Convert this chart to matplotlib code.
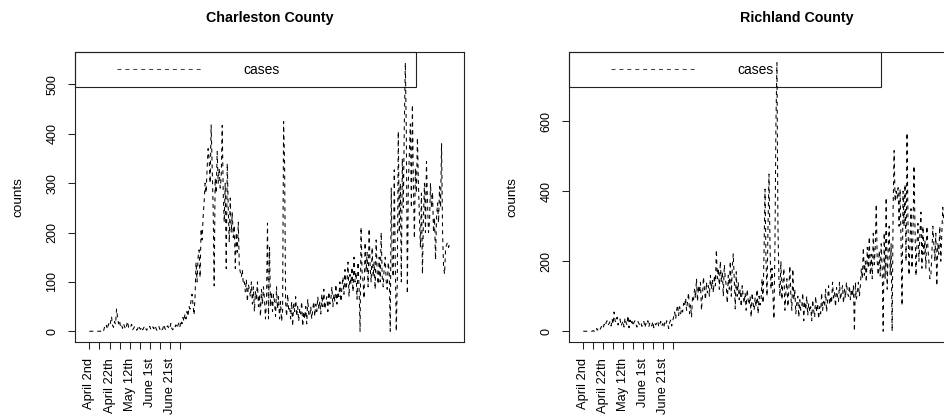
import matplotlib
matplotlib.use("Agg")
import matplotlib.pyplot as plt
from matplotlib.patches import Rectangle

plt.rcParams['font.family'] = ['Liberation Sans', 'DejaVu Sans']

# daily case counts (index 0 = April 2nd)
charleston = [
    0, 0, 0, 0, 0, 0, 0, 0, 0, 0,
    0, 0, 1, 3, 0, 8, 5, 12, 4, 15,
    10, 18, 30, 12, 8, 20, 14, 45, 28, 15,
    22, 8, 12, 6, 15, 9, 4, 12, 20, 7,
    5, 9, 14, 3, 6, 10, 8, 2, 5, 12,
    6, 4, 9, 3, 7, 11, 5, 2, 8, 6,
    10, 4, 3, 9, 5, 12, 7, 2, 6, 10,
    4, 8, 3, 5, 14, 6, 2, 9, 11, 4,
    7, 16, 5, 3, 10, 8, 13, 6, 12, 18,
    10, 22, 15, 28, 20, 35, 25, 40, 30, 50,
    45, 62, 75, 55, 33, 70, 140, 100, 150, 165,
    109, 208, 185, 230, 260, 300, 280, 330, 370, 350,
    300, 418, 330, 250, 92, 310, 280, 364, 300, 330,
    290, 310, 417, 280, 221, 300, 127, 340, 250, 180,
    270, 200, 240, 190, 215, 127, 200, 160, 221, 130,
    120, 110, 125, 95, 100, 80, 105, 60, 95, 85,
    70, 100, 55, 90, 40, 80, 65, 100, 50, 75,
    30, 85, 55, 90, 65, 25, 60, 219, 25, 170,
    50, 80, 40, 75, 60, 30, 90, 45, 70, 25,
    60, 20, 40, 425, 340, 60, 30, 75, 45, 50,
    25, 60, 10, 55, 40, 70, 30, 50, 20, 45,
    35, 60, 10, 40, 25, 50, 15, 65, 35, 30,
    50, 25, 45, 60, 30, 55, 40, 70, 45, 60,
    35, 75, 50, 85, 45, 60, 70, 40, 80, 55,
    65, 90, 50, 75, 60, 95, 55, 80, 70, 100,
    60, 90, 110, 75, 125, 85, 100, 140, 70, 115,
    95, 130, 80, 150, 100, 120, 65, 140, 90, 0,
    211, 120, 100, 66, 180, 120, 160, 90, 208, 130,
    100, 170, 110, 140, 85, 185, 120, 95, 150, 100,
    200, 110, 90, 130, 150, 100, 85, 140, 120, 0,
    290, 130, 110, 327, 140, 0, 100, 405, 200, 300,
    100, 350, 250, 420, 544, 400, 76, 300, 363, 420,
    250, 459, 300, 188, 330, 280, 392, 300, 230, 170,
    280, 116, 230, 300, 200, 344, 260, 200, 221, 300,
    250, 282, 200, 230, 145, 230, 260, 220, 293, 250,
    381, 200, 130, 116, 168, 175, 180, 170, 178,
]

richland = [
    0, 0, 0, 0, 0, 0, 0, 0, 0, 0,
    2, 0, 5, 10, 3, 8, 2, 6, 12, 15,
    8, 20, 14, 25, 30, 18, 22, 28, 15, 35,
    20, 55, 30, 25, 40, 18, 28, 35, 15, 22,
    30, 12, 38, 25, 18, 45, 10, 32, 20, 28,
    15, 25, 30, 20, 12, 28, 22, 18, 25, 14,
    20, 28, 10, 22, 18, 30, 12, 25, 20, 15,
    28, 10, 22, 18, 25, 30, 12, 20, 28, 15,
    22, 10, 25, 18, 30, 20, 8, 25, 32, 15,
    28, 40, 55, 35, 60, 75, 45, 70, 50, 65,
    55, 80, 70, 95, 60, 85, 110, 50, 75, 40,
    100, 90, 120, 95, 150, 85, 130, 110, 140, 60,
    100, 155, 120, 90, 140, 110, 130, 100, 160, 120,
    145, 110, 160, 130, 233, 150, 180, 120, 200, 140,
    170, 100, 190, 150, 130, 80, 160, 120, 200, 100,
    180, 221, 150, 64, 170, 100, 140, 90, 120, 70,
    130, 100, 80, 110, 60, 120, 90, 75, 100, 40,
    110, 80, 60, 95, 70, 120, 50, 100, 75, 90,
    150, 80, 230, 406, 200, 100, 300, 449, 250, 120,
    180, 100, 35, 250, 597, 767, 300, 150, 100, 200,
    90, 140, 180, 60, 110, 150, 70, 120, 187, 100,
    60, 178, 90, 120, 50, 80, 100, 40, 90, 60,
    70, 110, 30, 85, 60, 100, 45, 80, 55, 70,
    30, 90, 60, 40, 100, 55, 80, 35, 70, 50,
    110, 60, 85, 70, 120, 55, 90, 130, 75, 100,
    80, 140, 95, 110, 70, 125, 100, 85, 140, 90,
    110, 130, 80, 120, 95, 140, 110, 100, 130, 90,
    120, 100, 130, 0, 140, 92, 110, 140, 100, 130,
    180, 150, 239, 160, 200, 140, 240, 180, 270, 160,
    220, 150, 280, 190, 240, 363, 200, 160, 230, 158,
    250, 180, 0, 282, 150, 382, 120, 230, 300, 160,
    250, 0, 350, 516, 370, 400, 380, 410, 300, 406,
    250, 73, 400, 300, 420, 200, 567, 300, 160, 250,
    350, 180, 280, 473, 300, 158, 250, 308, 200, 280,
    340, 180, 300, 220, 260, 180, 300, 240, 200, 150,
    158, 220, 300, 250, 200, 280, 130, 250, 220, 300,
    200, 280, 354, 320, 300,
]

tick_pos = [0, 10, 20, 30, 40, 50, 60, 70, 80, 90]
tick_labels = ["April 2nd", "", "April 22th", "", "May 12th", "",
               "June 1st", "", "June 21st", ""]

W, H = 944, 417
fig = plt.figure(figsize=(W / 100, H / 100), dpi=100)

# axes boxes in pixels: (left, right)
boxes = [(75, 464), (569.3, 1025)]
titles = ["Charleston County", "Richland County"]
series = [charleston, richland]
xlims = [(-14.3, 372.3), (-14.1, 444.8)]
yticks = [[0, 100, 200, 300, 400, 500], [0, 200, 400, 600]]
legend_right = [416, 880.7]

dash = (0, (3.8, 3.8))

for k in range(2):
    l, r = boxes[k]
    ax = fig.add_axes([l / W, 1 - 342 / H, (r - l) / W, 290 / H])
    y = series[k]
    ax.plot(range(len(y)), y, color='black', lw=0.75, linestyle=dash)
    ymax = max(y)
    ax.set_ylim(-0.04 * ymax, 1.04 * ymax)
    ax.set_xlim(*xlims[k])
    ax.set_xticks(tick_pos)
    ax.set_xticklabels(tick_labels, rotation=90, va='top', ha='center', fontsize=9.3)
    ax.set_yticks(yticks[k])
    ax.set_yticklabels([str(v) for v in yticks[k]], rotation=90, va='center', fontsize=9)
    ax.tick_params(axis='both', direction='out', length=5, width=0.75, color='#222222')
    ax.tick_params(axis='x', pad=6.5)
    ax.tick_params(axis='y', pad=7)
    for s in ax.spines.values():
        s.set_linewidth(0.8)
        s.set_color('#222222')

    # legend box (R style, top-left)
    bw = r - l
    lx1 = (legend_right[k] - l) / bw
    ly0 = (342 - 86.5) / 290
    ax.add_patch(Rectangle((0, ly0), lx1, 1 - ly0, transform=ax.transAxes,
                           fill=False, lw=0.8, edgecolor='#222222', clip_on=False))
    ly = (342 - 69) / 290
    ax.plot([41.7 / bw, 126.7 / bw], [ly, ly], transform=ax.transAxes,
            color='#444444', lw=0.75, linestyle=dash)
    ax.text(168 / bw, (342 - 70.5) / 290, "cases", transform=ax.transAxes,
            ha='left', va='center', fontsize=10)

    fig.text((l + min(r, 2 * 797 - l)) / 2 / W if k == 0 else 797 / W, 1 - 18 / H,
             titles[k], ha='center', va='center', fontsize=10.3, fontweight='bold')
    fig.text((l - 57) / W, 1 - 197 / H, "counts", rotation=90,
             ha='center', va='center', fontsize=9.7)

fig.savefig("out.png", dpi=100)
